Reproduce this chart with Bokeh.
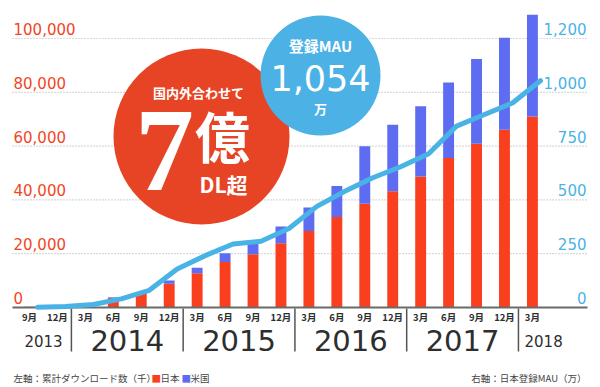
from bokeh.plotting import figure
from bokeh.models import Range1d
from bokeh.core.properties import value
from bokeh.embed import file_html
from bokeh.resources import INLINE

# ---------------- data ----------------
months = ["9月", "12月", "3月", "6月", "9月", "12月", "3月", "6月", "9月", "12月",
          "3月", "6月", "9月", "12月", "3月", "6月", "9月", "12月", "3月"]
japan_dl = [300, 700, 1600, 3600, 5100, 8800, 12700, 16900, 19800, 23900,
            28400, 33600, 38600, 43200, 48700, 55600, 60900, 66100, 71000]
us_dl = [0, 0, 100, 200, 200, 1200, 2100, 3300, 4100, 6200,
         8800, 11600, 21300, 24700, 26100, 28000, 31500, 34200, 37800]
mau = [1, 5, 14, 40, 80, 179, 241, 295, 308, 367,
       470, 540, 603, 654, 714, 843, 897, 950, 1054]
years = ["2013", "2014", "2015", "2016", "2017", "2018"]
year_pos = [0.5, 3.5, 7.5, 11.5, 15.5, 18.4]
year_size = ["15px", "29px", "29px", "29px", "29px", "15px"]
year_sep = [1.5, 5.5, 9.5, 13.5, 17.5]
left_ticks = [0, 20000, 40000, 60000, 80000, 100000]
left_labels = ["0", "20,000", "40,000", "60,000", "80,000", "100,000"]
right_ticks = [0, 250, 500, 750, 1000, 1250]
right_labels = ["0", "250", "500", "750", "1,000", "1,200"]

# ---------------- geometry helpers (page px -> data) ----------------
W, H = 600, 387
PAGE_OFF = 0
X0, DX = 29.0, 27.94          # page x of first bar, px per category
Y0, K = 307.0, 269.0 / 100000  # page y of zero, px per unit (left axis)
RATIO = 80.0                   # left units per right unit


def px2x(px):
    return (px - X0) / DX


def px2y(py):
    return (Y0 - py) / K


def dpx(n):
    return n / K


x_start, x_end = px2x(PAGE_OFF), px2x(PAGE_OFF + W)
y_start, y_end = px2y(PAGE_OFF + H), px2y(PAGE_OFF)

RED = "#f93f1d"
BLUE = "#5d6cf0"
SKY = "#4ab3e6"
CIRCLE_RED = "#e74425"
CIRCLE_BLUE = "#4cb2e5"
TXT = "#2e2e2e"
JP = "Noto Sans CJK JP"
NUM = "DejaVu Sans"

p = figure(width=W, height=H, x_range=Range1d(x_start, x_end),
           y_range=Range1d(y_start, y_end),
           extra_y_ranges={"mau": Range1d(y_start / RATIO, y_end / RATIO)},
           x_axis_location=None, y_axis_location=None,
           min_border=0, outline_line_color=None,
           toolbar_location=None, output_backend="svg")
p.grid.visible = False
p.background_fill_color = "white"

xs = list(range(len(months)))

# grid lines (dotted)
grid_vals = left_ticks[1:]
p.segment(x0=[px2x(12)] * len(grid_vals), x1=[px2x(587)] * len(grid_vals),
          y0=grid_vals, y1=grid_vals, line_color="#b5b5b5",
          line_width=1.2, line_dash="1 2")

# stacked bars
src = dict(x=xs, jp=japan_dl, us=us_dl)
p.vbar_stack(["jp", "us"], x="x", width=0.39, color=[RED, BLUE],
             line_color=None, source=src)

# baseline
p.segment(x0=[px2x(12)], x1=[px2x(587)], y0=[0], y1=[0],
          line_color="#6a6a6a", line_width=2)

# year separators
p.segment(x0=year_sep, x1=year_sep, y0=[px2y(308)] * len(year_sep),
          y1=[px2y(351)] * len(year_sep), line_color="#555555", line_width=1.5)

# MAU line
p.line(x=[x + 8 / DX for x in xs], y=mau, y_range_name="mau",
       line_color=SKY, line_width=5, line_cap="round", line_join="round")

# left tick labels
p.text(x=[px2x(13)] * len(left_ticks), y=[v + dpx(9.5) for v in left_ticks],
       text=left_labels, text_font=value(NUM), text_font_size="15px",
       text_color="#f2461f", text_align="left", text_baseline="middle")

# right tick labels
p.text(x=[px2x(586)] * len(right_ticks),
       y=[v + dpx(9.5) / RATIO for v in right_ticks], y_range_name="mau",
       text=right_labels, text_font=value(NUM), text_font_size="15px",
       text_color=SKY, text_align="right", text_baseline="middle")

# month labels
p.text(x=xs, y=[px2y(316)] * len(xs), text=months, text_font=value(JP),
       text_font_size="9.5px", text_font_style="bold", text_color=TXT,
       text_align="center", text_baseline="middle")

# year labels
for yr, pos, sz in zip(years, year_pos, year_size):
    p.text(x=[pos], y=[px2y(340)], text=[yr], text_font=value(NUM),
           text_font_size=sz, text_color=TXT, text_align="center",
           text_baseline="middle")

# bottom notes
note_y = px2y(377)
p.text(x=[px2x(13)], y=[note_y], text=["左軸：累計ダウンロード数（千）"],
       text_font=value(JP), text_font_size="9.5px", text_color="#444444",
       text_align="left", text_baseline="middle")
p.text(x=[px2x(151)], y=[note_y], text=["■"], text_font=value(JP),
       text_font_size="9.5px", text_color=RED, text_align="left",
       text_baseline="middle")
p.text(x=[px2x(160)], y=[note_y], text=["日本"], text_font=value(JP),
       text_font_size="9.5px", text_color="#444444", text_align="left",
       text_baseline="middle")
p.text(x=[px2x(181)], y=[note_y], text=["■"], text_font=value(JP),
       text_font_size="9.5px", text_color=BLUE, text_align="left",
       text_baseline="middle")
p.text(x=[px2x(190)], y=[note_y], text=["米国"], text_font=value(JP),
       text_font_size="9.5px", text_color="#444444", text_align="left",
       text_baseline="middle")
p.text(x=[px2x(586)], y=[note_y], text=["右軸：日本登録MAU（万）"],
       text_font=value(JP), text_font_size="9.5px", text_color="#444444",
       text_align="right", text_baseline="middle")

# badges
p.scatter(x=[px2x(201)], y=[px2y(136)], size=176, marker="circle",
          fill_color=CIRCLE_RED, line_color=None)
p.text(x=[px2x(198)], y=[px2y(92)], text=["国内外合わせて"], text_font=value(JP),
       text_font_size="13px", text_font_style="bold", text_color="white",
       text_align="center", text_baseline="middle")
p.text(x=[px2x(164)], y=[px2y(150)], text=["7"],
       text_font=value("Liberation Sans Narrow"),
       text_font_size="118px", text_font_style="bold", text_color="white",
       text_align="center", text_baseline="middle")
p.text(x=[px2x(222)], y=[px2y(133)], text=["億"], text_font=value(JP),
       text_font_size="55px", text_font_style="bold", text_color="white",
       text_align="center", text_baseline="middle")
p.text(x=[px2x(223)], y=[px2y(183)], text=["DL超"], text_font=value(JP),
       text_font_size="21px", text_font_style="bold", text_color="white",
       text_align="center", text_baseline="middle")

p.scatter(x=[px2x(320)], y=[px2y(75)], size=120, marker="circle",
          fill_color=CIRCLE_BLUE, line_color=None)
p.text(x=[px2x(320)], y=[px2y(45)], text=["登録MAU"], text_font=value(JP),
       text_font_size="15px", text_font_style="bold", text_color="white",
       text_align="center", text_baseline="middle")
p.text(x=[px2x(320)], y=[px2y(77)], text=["1,054"], text_font=value(NUM),
       text_font_size="35px", text_color="white",
       text_align="center", text_baseline="middle")
p.text(x=[px2x(320)], y=[px2y(108)], text=["万"], text_font=value(JP),
       text_font_size="13px", text_font_style="bold", text_color="white",
       text_align="center", text_baseline="middle")

open("out.html", "w").write(file_html(p, INLINE))
